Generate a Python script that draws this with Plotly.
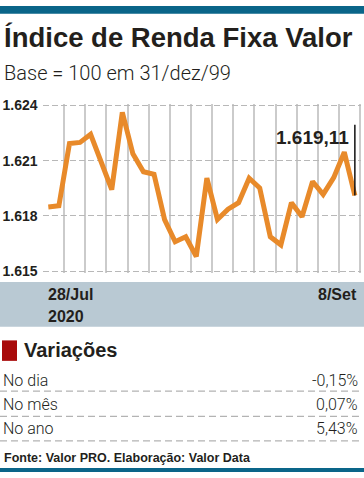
import plotly.graph_objects as go

W, H = 364, 478

dates = ["28/07", "29/07", "30/07", "31/07", "03/08", "04/08", "05/08", "06/08", "07/08",
         "10/08", "11/08", "12/08", "13/08", "14/08", "17/08", "18/08", "19/08", "20/08",
         "21/08", "24/08", "25/08", "26/08", "27/08", "28/08", "31/08", "01/09", "02/09",
         "03/09", "04/09", "08/09"]
values = [1618.49, 1618.55, 1621.93, 1621.99, 1622.43, 1620.84, 1619.43, 1623.63, 1621.37,
          1620.40, 1620.26, 1617.80, 1616.60, 1616.87, 1615.80, 1620.05, 1617.81, 1618.37,
          1618.72, 1620.05, 1619.52, 1616.87, 1616.43, 1618.72, 1617.96, 1619.87, 1619.17,
          1620.08, 1621.46, 1619.11]
y_ticks = [1615, 1618, 1621, 1624]
last_label = "1.619,11"
first_date = ["28/Jul", "2020"]
last_date = "8/Set"
var_labels = ["No dia", "No mês", "No ano"]
var_values = ["-0,15%", "0,07%", "5,43%"]

BOLD = "Liberation Sans, Arial, sans-serif"
LIGHT = "Roboto, sans-serif"
DARK = "#231f1c"
BLUE = "#0a6589"


def px(x):
    return x / W


def py(y):
    return 1 - y / H


fig = go.Figure()
fig.add_trace(go.Scatter(
    x=dates, y=values, mode="lines",
    line=dict(color="#e88a2a", width=5, shape="linear"),
    hoverinfo="skip", showlegend=False,
))

shapes = []
annotations = []

# top & bottom blue bars
shapes.append(dict(type="rect", xref="paper", yref="paper", x0=0, x1=1, y0=py(8), y1=py(0),
                   fillcolor=BLUE, line=dict(width=0), layer="below"))
shapes.append(dict(type="rect", xref="paper", yref="paper", x0=0, x1=1, y0=py(478), y1=py(474),
                   fillcolor=BLUE, line=dict(width=0), layer="below"))
# gray date band
shapes.append(dict(type="rect", xref="paper", yref="paper", x0=0, x1=1, y0=py(329), y1=py(283),
                   fillcolor="#b9c9d3", line=dict(width=0), layer="below"))
# red square
shapes.append(dict(type="rect", xref="paper", yref="paper", x0=px(2), x1=px(17), y0=py(364), y1=py(343),
                   fillcolor="#a80a0a", line=dict(width=0)))
# dashed separators
for yy in [395, 421, 446]:
    shapes.append(dict(type="line", xref="paper", yref="paper", x0=0, x1=px(362), y0=py(yy), y1=py(yy),
                       line=dict(color="#b3b3b3", width=1.2, dash="7px,4px")))
# last value marker line
shapes.append(dict(type="line", xref="x", yref="y", x0=dates[-1], x1=dates[-1],
                   y0=values[-1], y1=1622.95, line=dict(color="#111111", width=1.5)))

# texts
annotations.append(dict(text="Índice de Renda Fixa Valor", x=px(2), y=py(32), xref="paper", yref="paper",
                        xanchor="left", yanchor="middle", showarrow=False,
                        font=dict(family=BOLD, size=27.5, color=DARK, weight="bold")))
annotations.append(dict(text="Base = 100 em 31/dez/99", x=px(2), y=py(69), xref="paper", yref="paper",
                        xanchor="left", yanchor="middle", showarrow=False,
                        font=dict(family=LIGHT, size=20, color=DARK, weight=300)))
annotations.append(dict(text=last_label, x=dates[-1], y=1622.95, xref="x", yref="y",
                        xanchor="right", yanchor="top", xshift=-4, yshift=0, showarrow=False,
                        font=dict(family=BOLD, size=19, color=DARK, weight="bold")))
annotations.append(dict(text=first_date[0], x=px(46), y=py(296), xref="paper", yref="paper",
                        xanchor="left", yanchor="middle", showarrow=False,
                        font=dict(family=BOLD, size=16, color=DARK, weight="bold")))
annotations.append(dict(text=first_date[1], x=px(46), y=py(318), xref="paper", yref="paper",
                        xanchor="left", yanchor="middle", showarrow=False,
                        font=dict(family=BOLD, size=16, color=DARK, weight="bold")))
annotations.append(dict(text=last_date, x=px(359), y=py(296), xref="paper", yref="paper",
                        xanchor="right", yanchor="middle", showarrow=False,
                        font=dict(family=BOLD, size=16, color=DARK, weight="bold")))
annotations.append(dict(text="Variações", x=px(22), y=py(353), xref="paper", yref="paper",
                        xanchor="left", yanchor="middle", showarrow=False,
                        font=dict(family=BOLD, size=20, color=DARK, weight="bold")))
for i, (lab, val) in enumerate(zip(var_labels, var_values)):
    yc = [384, 409, 433][i]
    annotations.append(dict(text=lab, x=px(1), y=py(yc), xref="paper", yref="paper",
                            xanchor="left", yanchor="middle", showarrow=False,
                            font=dict(family=LIGHT, size=16, color=DARK, weight=300)))
    annotations.append(dict(text=val, x=px(360), y=py(yc), xref="paper", yref="paper",
                            xanchor="right", yanchor="middle", showarrow=False,
                            font=dict(family=LIGHT, size=16, color=DARK, weight=300)))
annotations.append(dict(text="Fonte: Valor PRO. Elaboração: Valor Data", x=px(2), y=py(464),
                        xref="paper", yref="paper", xanchor="left", yanchor="middle", showarrow=False,
                        font=dict(family=BOLD, size=12.5, color=DARK, weight="bold")))

fig.update_layout(
    width=W, height=H,
    margin=dict(l=0, r=0, t=0, b=0),
    paper_bgcolor="white", plot_bgcolor="white",
    separators=",.",
    shapes=shapes, annotations=annotations,
    xaxis=dict(domain=[px(42.5), px(361.2)], type="category", range=[-0.55, 29.6],
               tickson="boundaries", showgrid=True, gridcolor="#cbcbcb", gridwidth=2,
               showticklabels=False, ticks="", showline=False, zeroline=False, fixedrange=True),
    yaxis=dict(domain=[py(273.9), py(100.1)], range=[1614.9, 1624.1],
               tickvals=y_ticks, tickformat=",d", showgrid=True, gridcolor="#b8b8b8", gridwidth=1.2,
               griddash="6px,3px", ticks="", ticklabelstandoff=4, showline=False, zeroline=False,
               tickfont=dict(family=BOLD, size=14, color=DARK, weight="bold"), fixedrange=True),
)

fig.write_html("out.html", config={"displayModeBar": False},
               post_script="document.body.style.margin='0';document.body.style.overflow='hidden';")
